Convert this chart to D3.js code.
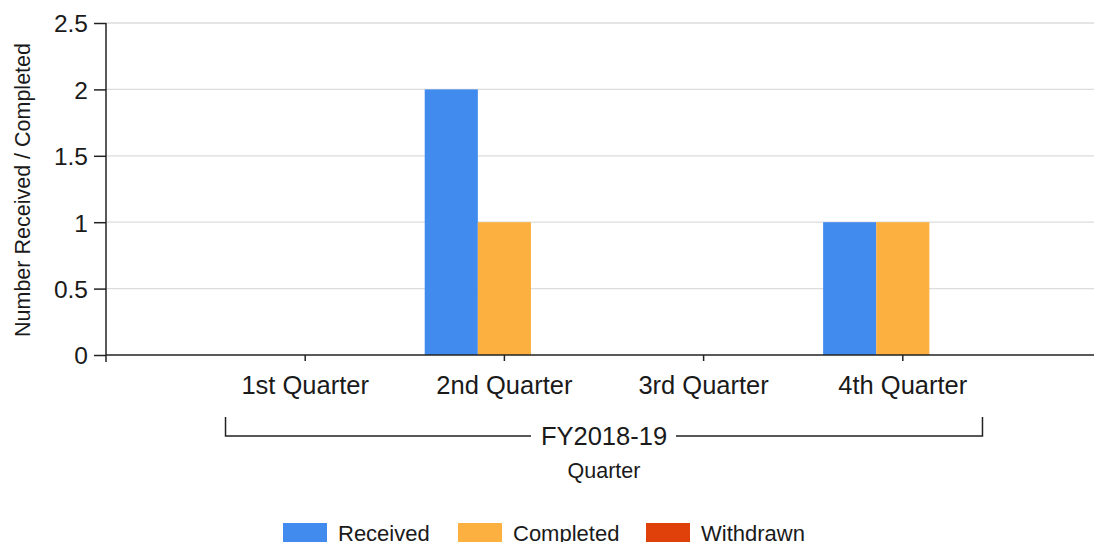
<!DOCTYPE html>
<html>
<head>
<meta charset="utf-8">
<script src="https://cdn.jsdelivr.net/npm/d3@7"></script>
<style>
  body { margin: 0; background: #fff; }
  text { font-family: "Liberation Sans", Arial, sans-serif; fill: #1a1a1a; }
</style>
</head>
<body>
<script>
const quarters = ["1st Quarter", "2nd Quarter", "3rd Quarter", "4th Quarter"];
const seriesNames = ["Received", "Completed", "Withdrawn"];
const received = [0, 2, 0, 1];
const completed = [0, 1, 0, 1];
const withdrawn = [0, 0, 0, 0];
const yTicks = [0, 0.5, 1, 1.5, 2, 2.5];
const groupLabel = "FY2018-19";
const colors = ["#418aee", "#fbb040", "#e0400a"];

function main() {
    let svg = d3.select("body").append("svg")
        .attr("width", 1094)
        .attr("height", 542);

    let rows = quarters.map((q, i) => ({ q: q, vals: [received[i], completed[i], withdrawn[i]] }));

    // outer point scale has an empty slot on both sides of the quarters
    let x = d3.scalePoint().domain(["_l"].concat(quarters, ["_r"])).range([106, 1102]);
    let step = x.step();
    let inner = d3.scaleBand().domain(seriesNames).range([-0.4 * step, 0.4 * step]);
    let y = d3.scaleLinear().domain([0, 2.5]).range([355, 23]);

    // gridlines
    svg.append("g").selectAll("line").data(yTicks.slice(1)).join("line")
        .attr("x1", 106).attr("x2", 1094)
        .attr("y1", d => y(d)).attr("y2", d => y(d))
        .attr("stroke", "#dcdcdc").attr("stroke-width", 1.3);

    // bars
    let g = svg.append("g").selectAll("g").data(rows).join("g")
        .attr("transform", d => `translate(${x(d.q)},0)`);
    g.selectAll("rect").data(d => d.vals.map((v, i) => ({ s: seriesNames[i], v: v, i: i })))
        .join("rect")
        .attr("x", d => inner(d.s))
        .attr("width", inner.bandwidth())
        .attr("y", d => y(d.v))
        .attr("height", d => y(0) - y(d.v))
        .attr("fill", d => colors[d.i]);

    // y axis
    let yaxis = d3.axisLeft(y).tickValues(yTicks).tickSize(12).tickPadding(6).tickFormat(d => d);
    let ya = svg.append("g").attr("transform", "translate(106,0)").call(yaxis);
    ya.select(".domain").remove();
    ya.selectAll(".tick line").attr("stroke", "#222").attr("stroke-width", 1.5);
    ya.selectAll(".tick text").style("font-size", "24.5px").attr("dy", "0.36em");
    svg.append("line").attr("x1", 106).attr("x2", 106).attr("y1", y(2.5)).attr("y2", 362)
        .attr("stroke", "#222").attr("stroke-width", 1.5);

    // x axis
    let xa = svg.append("g").attr("transform", "translate(0,355)");
    xa.append("line").attr("x1", 106).attr("x2", 1094).attr("stroke", "#222").attr("stroke-width", 1.5);
    xa.selectAll(".tk").data(quarters).join("line")
        .attr("x1", d => x(d)).attr("x2", d => x(d)).attr("y1", 0).attr("y2", 6)
        .attr("stroke", "#222").attr("stroke-width", 1.5);
    xa.selectAll("text").data(quarters).join("text")
        .attr("x", d => x(d)).attr("y", 39)
        .attr("text-anchor", "middle")
        .style("font-size", "25.5px")
        .text(d => d);

    // group bracket
    let bx0 = x(quarters[0]) - 0.4 * step, bx1 = x(quarters[3]) + 0.4 * step;
    let bmid = (bx0 + bx1) / 2;
    let by = 436;
    let br = svg.append("g").attr("stroke", "#222").attr("stroke-width", 1.5).attr("fill", "none");
    br.append("path").attr("d", `M${bx0},417V${by}H${bmid - 73}`);
    br.append("path").attr("d", `M${bmid + 72},${by}H${bx1}V417`);
    svg.append("text").attr("x", bmid).attr("y", by + 9)
        .attr("text-anchor", "middle").style("font-size", "25.5px").text(groupLabel);

    // axis titles
    svg.append("text").attr("x", bmid).attr("y", 478)
        .attr("text-anchor", "middle").style("font-size", "21.5px").text("Quarter");
    svg.append("text").attr("transform", "translate(30,190) rotate(-90)")
        .attr("text-anchor", "middle").style("font-size", "21.5px").text("Number Received / Completed");

    // legend
    let lx = [283, 458, 646];
    let lg = svg.append("g").selectAll("g").data(seriesNames).join("g")
        .attr("transform", (d, i) => `translate(${lx[i]},523)`);
    lg.append("rect").attr("width", 44).attr("height", 19).attr("fill", (d, i) => colors[i]);
    lg.append("text").attr("x", 55).attr("y", 18).style("font-size", "22px").text(d => d);
}

main()
</script>
</body>
</html>
